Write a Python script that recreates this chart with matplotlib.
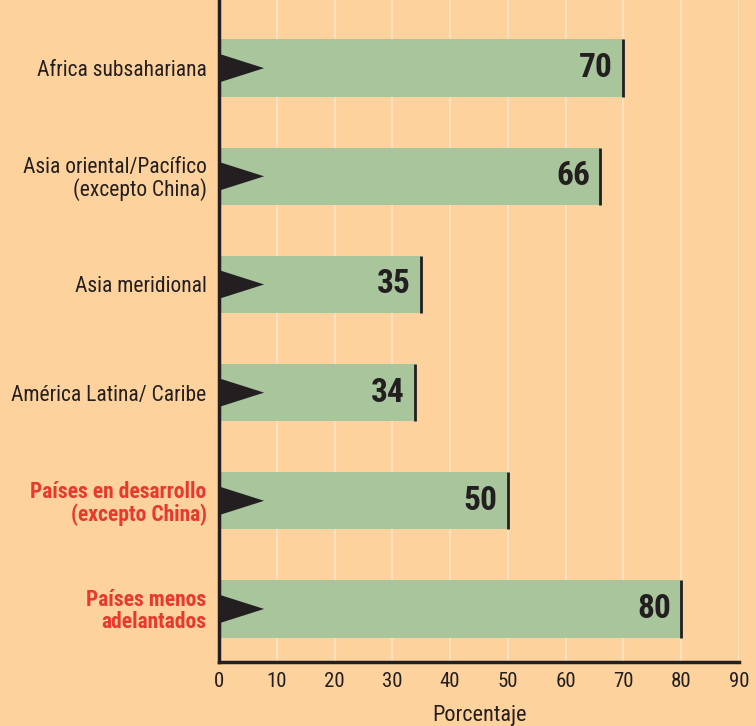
import matplotlib
matplotlib.use('Agg')
import matplotlib.pyplot as plt
import logging

logging.getLogger('matplotlib.font_manager').setLevel(logging.ERROR)
plt.rcParams['font.family'] = ['Liberation Sans Narrow', 'Roboto Condensed',
                               'DejaVu Sans Condensed', 'Liberation Sans']

categories = ['Africa subsahariana', 'Asia oriental/Pacífico\n(excepto China)',
              'Asia meridional', 'América Latina/ Caribe',
              'Países en desarrollo\n(excepto China)', 'Países menos\nadelantados']
values = [70, 66, 35, 34, 50, 80]
highlight = [False, False, False, False, True, True]
xticks = [0, 10, 20, 30, 40, 50, 60, 70, 80, 90]

bg = '#fdd29c'
bar_col = '#a8c59c'
dark = '#231f20'
red = '#e8392e'

fig = plt.figure(figsize=(7.56, 7.26), dpi=100)
fig.patch.set_facecolor(bg)
ax = fig.add_axes([0.2897, 0.0882, 0.6878, 0.9118])
ax.set_facecolor(bg)

ypos = list(range(len(categories)))
h = 0.53
for x in xticks[1:]:
    ax.axvline(x, color='#f7e6c8', lw=1.2, zorder=1)
ax.barh(ypos, values, height=h, color=bar_col, zorder=2)
for y, v in zip(ypos, values):
    ax.vlines(v, y - h / 2, y + h / 2, color=dark, lw=2, zorder=3)
    ax.fill([0, 7.8, 0], [y - h / 4, y, y + h / 4], color=dark, zorder=3, lw=0)
    ax.text(v - 1.8, y, str(v), ha='right', va='center', fontsize=24,
            fontweight='bold', color=dark, zorder=4)

ax.set_ylim(5.49, -0.63)
ax.set_xlim(0, 90)
ax.set_yticks(ypos)
ax.set_yticklabels(categories, fontsize=15.5, color=dark, linespacing=1.0)
for lbl, hl in zip(ax.get_yticklabels(), highlight):
    if hl:
        lbl.set_color(red)
        lbl.set_fontweight('bold')
ax.set_xticks(xticks)
ax.tick_params(axis='x', labelsize=15, colors=dark, length=0, pad=7)
ax.tick_params(axis='y', length=0, pad=9)
ax.set_xlabel('Porcentaje', fontsize=16, color=dark, labelpad=10)

for s in ['top', 'right']:
    ax.spines[s].set_visible(False)
ax.spines['left'].set_linewidth(2.5)
ax.spines['bottom'].set_linewidth(2.5)
ax.spines['left'].set_color(dark)
ax.spines['bottom'].set_color(dark)

fig.savefig('out.png', dpi=100, facecolor=bg)
